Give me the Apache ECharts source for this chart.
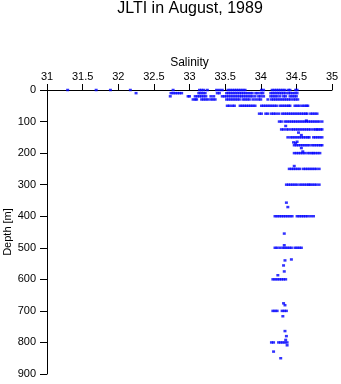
<!DOCTYPE html>
<html><head><meta charset="utf-8">
<script src="https://cdn.jsdelivr.net/npm/echarts@6/dist/echarts.min.js"></script>
<style>html,body{margin:0;padding:0;background:#fff}#c{width:341px;height:384px}</style>
</head><body><div id="c"></div>
<script>
const titleText = 'JLTI in August, 1989';
const xName = 'Salinity';
const yName = 'Depth [m]';
const xTicks = [31, 31.5, 32, 32.5, 33, 33.5, 34, 34.5, 35];
const yTicks = [0, 100, 200, 300, 400, 500, 600, 700, 800, 900];

// salinity values at standard depth levels
const sal0 = [31.29, 31.69, 31.89, 32.17, 32.77, 33.14, 33.17, 33.20, 33.25, 33.38, 33.42, 33.46, 33.54, 33.57, 33.60, 33.63, 33.66, 33.69, 33.72, 33.75, 33.78, 34.01, 34.04, 34.16, 34.19, 34.22, 34.25, 34.28, 34.31, 34.34, 34.39, 34.41, 34.49, 34.51];
const sal10 = [32.25, 32.74, 32.77, 32.80, 32.83, 32.86, 32.89, 33.13, 33.16, 33.19, 33.22, 33.39, 33.42, 33.52, 33.55, 33.58, 33.61, 33.64, 33.67, 33.70, 33.73, 33.76, 33.79, 33.82, 33.85, 33.88, 33.93, 33.96, 34.00, 34.03, 34.14, 34.17, 34.20, 34.23, 34.26, 34.29, 34.32, 34.35, 34.39, 34.42, 34.45, 34.48, 34.51];
const sal20 = [32.73, 32.98, 33.00, 33.08, 33.11, 33.14, 33.17, 33.20, 33.23, 33.30, 33.34, 33.46, 33.49, 33.52, 33.55, 33.58, 33.61, 33.64, 33.67, 33.70, 33.73, 33.76, 33.79, 33.82, 33.85, 33.88, 33.92, 33.97, 34.00, 34.04, 34.14, 34.17, 34.20, 34.23, 34.27, 34.32, 34.35, 34.41, 34.44, 34.47, 34.50];
const sal30 = [33.05, 33.08, 33.10, 33.17, 33.20, 33.23, 33.26, 33.30, 33.33, 33.36, 33.52, 33.55, 33.58, 33.61, 33.64, 33.67, 33.70, 33.75, 33.78, 33.81, 33.84, 33.89, 33.93, 33.97, 34.00, 34.10, 34.15, 34.18, 34.21, 34.24, 34.27, 34.30, 34.33, 34.36, 34.39, 34.42, 34.46, 34.49, 34.52];
const sal50 = [33.53, 33.56, 33.60, 33.63, 33.71, 33.74, 33.77, 33.80, 33.83, 33.86, 33.89, 33.92, 34.01, 34.04, 34.07, 34.10, 34.13, 34.16, 34.19, 34.22, 34.27, 34.30, 34.33, 34.36, 34.39, 34.41, 34.48, 34.51, 34.54, 34.58, 34.61, 34.64, 34.66];
const sal75 = [33.98, 34.01, 34.07, 34.10, 34.15, 34.18, 34.21, 34.25, 34.30, 34.33, 34.36, 34.39, 34.42, 34.45, 34.48, 34.51, 34.54, 34.57, 34.60, 34.63, 34.65, 34.70, 34.73, 34.76, 34.79];
const sal100 = [34.26, 34.29, 34.34, 34.37, 34.40, 34.43, 34.46, 34.49, 34.52, 34.55, 34.58, 34.61, 34.64, 34.67, 34.70, 34.73, 34.76, 34.79, 34.82, 34.86];
const sal125 = [34.29, 34.32, 34.36, 34.39, 34.43, 34.46, 34.49, 34.52, 34.55, 34.58, 34.61, 34.64, 34.67, 34.70, 34.74, 34.77, 34.79, 34.81, 34.84, 34.86];
const sal150 = [34.38, 34.42, 34.45, 34.48, 34.51, 34.54, 34.57, 34.60, 34.63, 34.66, 34.68, 34.74, 34.77, 34.80, 34.83, 34.86];
const sal175 = [34.47, 34.50, 34.53, 34.56, 34.59, 34.62, 34.65, 34.68, 34.72, 34.75, 34.78, 34.81, 34.84, 34.86];
const sal200 = [34.47, 34.50, 34.53, 34.56, 34.59, 34.62, 34.66, 34.69, 34.72, 34.74, 34.77, 34.80, 34.83];
const sal250 = [34.40, 34.43, 34.46, 34.49, 34.52, 34.55, 34.60, 34.63, 34.66, 34.69, 34.72, 34.75, 34.78, 34.82];
const sal300 = [34.36, 34.39, 34.42, 34.45, 34.48, 34.51, 34.55, 34.58, 34.61, 34.64, 34.67, 34.69, 34.72, 34.75, 34.78, 34.82];
const sal400 = [34.20, 34.23, 34.26, 34.29, 34.32, 34.35, 34.38, 34.41, 34.44, 34.51, 34.54, 34.57, 34.60, 34.63, 34.66, 34.70, 34.74];
const sal500 = [34.20, 34.23, 34.27, 34.31, 34.34, 34.37, 34.40, 34.43, 34.48, 34.51, 34.54, 34.57];
const sal600 = [34.17, 34.20, 34.23, 34.26, 34.29, 34.32, 34.35];
const sal700 = [34.17, 34.20, 34.23, 34.30, 34.33, 34.36];
const sal800 = [34.15, 34.18, 34.25, 34.28, 34.31, 34.34, 34.37];
const levelDepths = [0, 10, 20, 30, 50, 75, 100, 125, 150, 175, 200, 250, 300, 400, 500, 600, 700, 800];
const levelSal = [sal0, sal10, sal20, sal30, sal50, sal75, sal100, sal125, sal150, sal175, sal200, sal250, sal300, sal400, sal500, sal600, sal700, sal800];

// isolated samples off the standard levels
const extraSal   = [34.64, 34.35, 34.53, 34.57, 34.46, 34.49, 34.51, 34.57, 34.59, 34.47, 34.36, 34.38, 34.33, 34.33, 34.43, 34.34, 34.32, 34.33, 34.24, 34.32, 34.34, 34.31, 34.34, 34.36, 34.35, 34.37, 34.18, 34.28];
const extraDepth = [97, 114, 135, 143, 166, 168, 164, 184, 195, 241, 357, 371, 455, 492, 537, 540, 556, 575, 587, 676, 682, 717, 764, 780, 792, 809, 829, 850];

const points = [];
levelSal.forEach((arr, i) => arr.forEach(s => points.push([s, levelDepths[i]])));
extraSal.forEach((s, i) => points.push([s, extraDepth[i]]));

const chart = echarts.init(document.getElementById('c'), null, {renderer: 'canvas'});
const font = 'Liberation Sans, Arial, Helvetica, sans-serif';
chart.setOption({
  animation: false,
  backgroundColor: '#fff',
  title: {
    text: titleText, left: 190, top: 1, padding: 0, textAlign: 'center',
    textStyle: {fontFamily: font, fontSize: 16, fontWeight: 'normal', color: '#000'}
  },
  grid: {left: 47, right: 9, top: 90, bottom: 10, containLabel: false, outerBoundsMode: 'none'},
  xAxis: {
    type: 'value', position: 'top', min: xTicks[0], max: xTicks[xTicks.length - 1], interval: 0.5,
    name: xName, nameLocation: 'middle', nameGap: 21, nameMoveOverlap: false,
    nameTextStyle: {fontFamily: font, fontSize: 12, color: '#000'},
    axisLine: {show: true, onZero: false, lineStyle: {color: '#000', width: 1}},
    axisTick: {show: true, length: 6, lineStyle: {color: '#000'}},
    axisLabel: {fontFamily: font, fontSize: 11, color: '#000', margin: 8},
    splitLine: {show: false}
  },
  yAxis: {
    type: 'value', inverse: true, min: yTicks[0], max: yTicks[yTicks.length - 1], interval: 100,
    name: yName, nameLocation: 'middle', nameGap: 34, nameRotate: 90, nameMoveOverlap: false,
    nameTextStyle: {fontFamily: font, fontSize: 11, color: '#000'},
    axisLine: {show: true, onZero: false, lineStyle: {color: '#000', width: 1}},
    axisTick: {show: true, length: 7, lineStyle: {color: '#000'}},
    axisLabel: {fontFamily: font, fontSize: 11, color: '#000', margin: 11},
    splitLine: {show: false}
  },
  series: [{
    type: 'scatter', data: points, symbol: 'rect', symbolSize: [3, 2.5],
    itemStyle: {color: '#0000ff'}, silent: true
  }]
});
</script>
</body></html>
